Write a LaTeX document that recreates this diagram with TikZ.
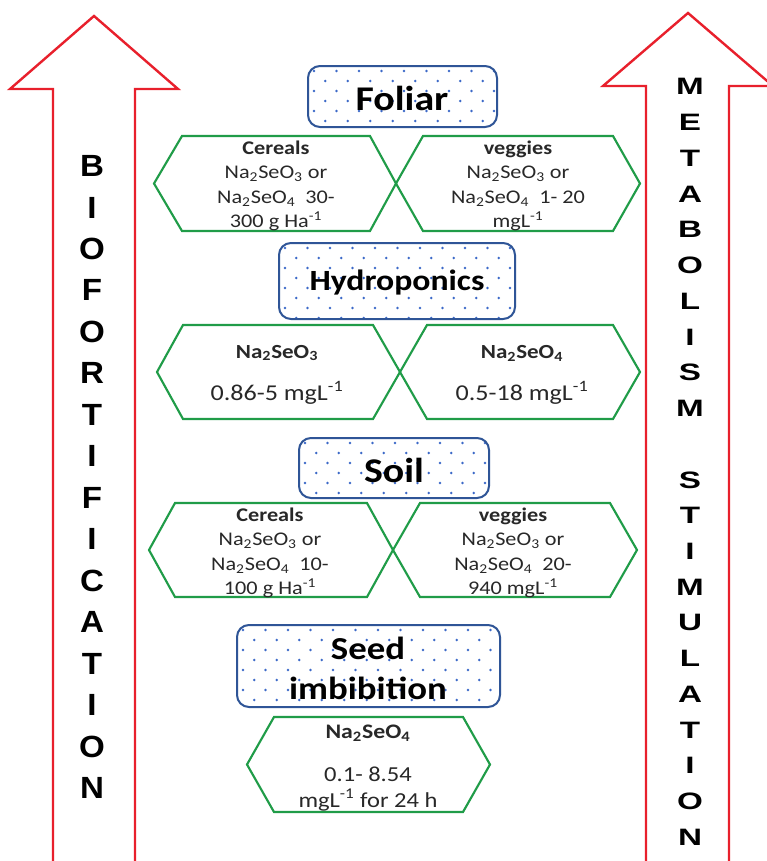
\documentclass[tikz,border=0pt]{standalone}
\usepackage{fontspec}
\setmainfont{Carlito}[FakeStretch=1.15]
\newfontfamily\lettfont{Liberation Sans}[FakeStretch=1.08]
\newfontfamily\widelett{Liberation Sans}[FakeStretch=1.4]

\definecolor{arrowred}{RGB}{232,32,44}
\definecolor{boxblue}{RGB}{47,85,151}
\definecolor{dotblue}{RGB}{60,105,200}
\definecolor{hexgreen}{RGB}{32,156,72}
\definecolor{bodygray}{RGB}{40,40,40}

\tikzset{
  bigarrow/.style={draw=arrowred, line width=1.8pt, line join=miter},
  boxline/.style={draw=boxblue, line width=1.5pt},
  hexline/.style={draw=hexgreen, line width=1.6pt, line join=miter},
  heading/.style={font=\bfseries\fontsize{26}{30}\selectfont, text=black, align=center, inner sep=0pt},
  bodytext/.style={font=\fontsize{14.5}{18.2}\selectfont, text=bodygray, align=center, inner sep=0pt},
  formula/.style={font=\bfseries\fontsize{15}{18}\selectfont, text=bodygray, align=center, inner sep=0pt},
  bigvalue/.style={font=\fontsize{17}{20}\selectfont, text=bodygray, align=center, inner sep=0pt},
}

% rounded heading box filled with a staggered grid of blue dots
\newcommand{\dotbox}[4]{%
  \begin{scope}
    \clip[rounded corners=9pt] (#1,#2) rectangle (#3,#4);
    \foreach \r in {0,...,9}{%
      \foreach \c in {0,...,12}{%
        \fill[dotblue] ({#1+6+\c*22.5+mod(\r,2)*11.25},{#2+5+\r*10}) circle[radius=1pt];
      }%
    }%
  \end{scope}
  \draw[boxline, rounded corners=9pt] (#1,#2) rectangle (#3,#4);%
}

% flat-topped hexagon: left point x, top-left x, top-right x, right point x, top y, bottom y
\newcommand{\hexa}[6]{%
  \draw[hexline] (#1,{(#5+#6)/2}) -- (#2,#5) -- (#3,#5) -- (#4,{(#5+#6)/2}) -- (#3,#6) -- (#2,#6) -- cycle;%
}

\begin{document}
\begin{tikzpicture}[x=0.75pt, y=-0.75pt]
  \clip (0,0) rectangle (767,861);
  \fill[white] (0,0) rectangle (767,861);

  % two open upward arrows at the sides
  \draw[bigarrow] (53,862) -- (53,89) -- (10,89) -- (94,16) -- (178,89) -- (135,89) -- (135,862);
  \draw[bigarrow] (646,862) -- (646,86) -- (603,86) -- (688,13) -- (773,86) -- (729,86) -- (729,862);

  \node[font=\lettfont\bfseries\fontsize{23}{31.1}\selectfont, align=center, inner sep=0pt] (bio) at (92,477)
    {B\\I\\O\\F\\O\\R\\T\\I\\F\\I\\C\\A\\T\\I\\O\\N};
  \node[font=\widelett\bfseries\fontsize{17.8}{26.8}\selectfont, align=center, inner sep=0pt] (meta) at (690,462)
    {M\\E\\T\\A\\B\\O\\L\\I\\S\\M\\~\\S\\T\\I\\M\\U\\L\\A\\T\\I\\O\\N};

  % Foliar
  \dotbox{308}{66}{497}{127}
  \node[heading] (foliar) at (402,98) {Foliar};
  \hexa{154}{182}{370}{396}{136}{231}
  \hexa{396}{423}{613}{640}{136}{231}
  \node[bodytext] (foliarcer) at (276,186)
    {\textbf{Cereals}\\Na\textsubscript{2}SeO\textsubscript{3} or\\Na\textsubscript{2}SeO\textsubscript{4}\ \ 30-\\300 g Ha\textsuperscript{-1}};
  \node[bodytext] (foliarveg) at (518,186)
    {\textbf{veggies}\\Na\textsubscript{2}SeO\textsubscript{3} or\\Na\textsubscript{2}SeO\textsubscript{4}\ \ 1- 20\\mgL\textsuperscript{-1}};

  % Hydroponics
  \dotbox{279}{243}{515}{319}
  \node[heading, font=\bfseries\fontsize{22}{26}\selectfont] (hydro) at (397,283) {Hydroponics};
  \hexa{157}{183}{373}{400}{325}{419}
  \hexa{400}{427}{613}{640}{325}{419}
  \node[formula] (hydroa) at (277,353) {Na\textsubscript{2}SeO\textsubscript{3}};
  \node[bigvalue] (hydroaval) at (277,393) {0.86-5 mgL\textsuperscript{-1}};
  \node[formula] (hydrob) at (522,353) {Na\textsubscript{2}SeO\textsubscript{4}};
  \node[bigvalue] (hydrobval) at (522,393) {0.5-18 mgL\textsuperscript{-1}};

  % Soil
  \dotbox{299}{438}{489}{498}
  \node[heading] (soil) at (394,470) {Soil};
  \hexa{149}{175}{367}{393}{503}{597}
  \hexa{393}{420}{610}{637}{503}{597}
  \node[bodytext] (soilcer) at (270,553)
    {\textbf{Cereals}\\Na\textsubscript{2}SeO\textsubscript{3} or\\Na\textsubscript{2}SeO\textsubscript{4}\ \ 10-\\100 g Ha\textsuperscript{-1}};
  \node[bodytext] (soilveg) at (513,553)
    {\textbf{veggies}\\Na\textsubscript{2}SeO\textsubscript{3} or\\Na\textsubscript{2}SeO\textsubscript{4}\ \ 20-\\940 mgL\textsuperscript{-1}};

  % Seed imbibition
  \dotbox{237}{625}{500}{707}
  \node[heading, font=\bfseries\fontsize{24}{30}\selectfont] (seed) at (368,668) {Seed\\imbibition};
  \hexa{247}{274}{463}{490}{717}{812}
  \node[formula, font=\bfseries\fontsize{15.5}{18}\selectfont] (seedf) at (368,733) {Na\textsubscript{2}SeO\textsubscript{4}};
  \node[bodytext, font=\fontsize{16}{19}\selectfont] (seedval) at (368,789) {0.1- 8.54\\mgL\textsuperscript{-1} for 24 h};
\end{tikzpicture}
\end{document}
